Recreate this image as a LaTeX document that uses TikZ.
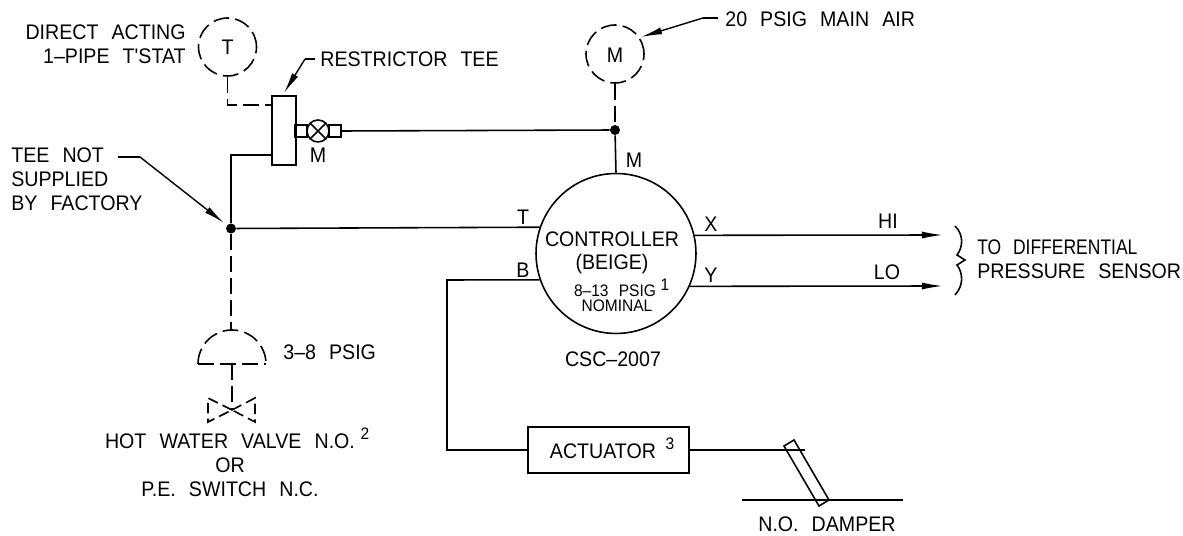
\documentclass[tikz,border=0pt]{standalone}
\usepackage{fontspec}
\usepackage{tikz}
\usetikzlibrary{arrows.meta}
\newfontfamily\cadfont[FakeStretch=0.93,WordSpace=2.4]{Liberation Sans}
\newfontfamily\cadnarrow[FakeStretch=0.83,WordSpace=2.4]{Liberation Sans}
\tikzset{
    lbl/.style={font=\cadfont\fontsize{12}{13.6}\selectfont, inner sep=0pt},
    smalllbl/.style={font=\cadfont\fontsize{9.5}{9.5}\selectfont, inner sep=0pt},
    pipe/.style={line width=0.9pt},
    dashpipe/.style={line width=0.9pt, dash pattern=on 9pt off 3.5pt},
    leader/.style={line width=0.8pt, -{Latex[length=12pt,width=4pt]}},
    dot/.style={circle, fill=black, inner sep=0pt, minimum size=0.2cm},
    dashcircle/.style={circle, draw, dashpipe, inner sep=0pt, minimum size=1.16cm},
    stub/.style={draw, pipe, minimum width=0.24cm, minimum height=0.24cm, inner sep=0pt}
}
\begin{document}
\begin{tikzpicture}[x=0.02cm,y=-0.02cm]
\useasboundingbox (0,0) rectangle (1183,536);

% Thermostat
\node[dashcircle] (tstat) at (227.5,47) {};
\node[lbl] (tstatname) at (227.5,47) {T};
\node[lbl, anchor=east, align=right] (tstatlbl) at (186,44) {DIRECT ACTING\\1–PIPE T'STAT};

% Restrictor tee
\node[draw, pipe, minimum width=0.48cm, minimum height=1.38cm, inner sep=0pt] (tee) at (284,130.5) {};
\node[stub] (stubr) at (335,131) {};
\node[stub] (stubl) at (301,131) {};
\node[circle, draw, pipe, fill=white, minimum size=0.44cm, inner sep=0pt] (valve) at (318,131) {};
\draw[pipe] (valve.45) -- (valve.225) (valve.135) -- (valve.315);
\node[lbl] (valvelbl) at (318,155) {M};
\node[lbl, anchor=west] (teelbl) at (320,59) {RESTRICTOR TEE};
\coordinate (teestart) at (315,59);
\coordinate (teebend) at (305,59);
\draw[pipe] (teestart) -- (teebend);
\draw[leader] (teebend) -- (284,93);
\draw[dashpipe] (tstat.south) -- (227.5,105) -- (272,105);

% Main air
\node[dashcircle] (main) at (615,54) {};
\node[lbl] (mainname) at (615,55) {M};
\node[dot] (maindot) at (615,130) {};
\node[lbl, anchor=west] (mainlbl) at (725,19) {20 PSIG MAIN AIR};
\coordinate (mainstart) at (718,18);
\coordinate (mainbend) at (703,18);
\draw[pipe] (mainstart) -- (mainbend);
\draw[leader] (mainbend) -- (641,37);
\draw[dashpipe] (main.south) -- (maindot);
\draw[pipe] (stubr.east) -- (maindot);

% Controller
\node[circle, draw, pipe, inner sep=0pt, minimum size=3.2cm] (ctrl) at (616,253.5) {};
\node[lbl] (ctrlname) at (612,239) {CONTROLLER};
\node[lbl] (ctrlcolor) at (612,264) {(BEIGE)};
\node[smalllbl] (ctrlpsig) at (615,291) {8–13 PSIG};
\node[smalllbl] (ctrlsup) at (665,285) {1};
\node[smalllbl] (ctrlnom) at (617,306) {NOMINAL};
\node[lbl] (ctrlmodel) at (613,359) {CSC–2007};
\draw[pipe] (maindot) -- (ctrl.north);
\node[lbl] (portm) at (634,160) {M};
\node[lbl] (portt) at (523,217) {T};
\node[lbl] (portb) at (523,270) {B};
\node[lbl] (portx) at (711,224) {X};
\node[lbl] (porty) at (711,275) {Y};

% Tee at left
\node[dot] (junction) at (231,228.5) {};
\draw[pipe] (junction) -- (ctrl.161.8);
\draw[pipe] (junction) -- (231,155) -- (272,155);
\node[lbl, anchor=west, align=left] (junctionlbl) at (11,179.5) {TEE NOT\\SUPPLIED\\BY FACTORY};
\coordinate (leadstart) at (118,157);
\coordinate (leadbend) at (140,157);
\draw[pipe] (leadstart) -- (leadbend);
\draw[leader] (leadbend) -- (224,223);

% Valve at bottom
\coordinate (domel) at (198,364);
\coordinate (domer) at (266,364);
\coordinate (bowtie) at (232,410);
\draw[dashpipe] (junction) -- (231,330);
\draw[dashpipe] (domel) arc[start angle=180, end angle=360, radius=34];
\draw[dashpipe] (domel) -- (domer);
\draw[dashpipe] (232,364) -- (bowtie);
\draw[pipe, dash pattern=on 6pt off 3pt] (bowtie) -- (208,398) -- (208,422) -- cycle;
\draw[pipe, dash pattern=on 6pt off 3pt] (bowtie) -- (255,398) -- (255,422) -- cycle;
\node[lbl, anchor=west] (domelbl) at (283,352) {3–8 PSIG};
\node[lbl, align=center] (hotlbl) at (230,465) {HOT WATER VALVE N.O.\\OR\\P.E. SWITCH N.C.};
\node[smalllbl] (hotsup) at (365,434) {2};

% Outputs
\coordinate (hitip) at (943,235);
\coordinate (lotip) at (943,286);
\draw[pipe, -{Latex[length=12pt,width=4pt]}] (ctrl.13.4) -- (hitip);
\draw[pipe, -{Latex[length=12pt,width=4pt]}] (ctrl.-24) -- (lotip);
\node[lbl] (hilbl) at (888,221) {HI};
\node[lbl] (lolbl) at (887,272) {LO};
\draw[pipe] (955,226) .. controls (964,235) and (963,247) .. (957,255) -- (965,260) -- (957,265) .. controls (963,273) and (964,285) .. (955,295);
\node[lbl, anchor=west, align=left] (sensorlbl) at (977,259.5) {{\cadnarrow TO DIFFERENTIAL}\\PRESSURE SENSOR};

% Actuator and damper
\node[draw, pipe, minimum width=3.22cm, minimum height=0.92cm, inner sep=0pt] (act) at (608.5,450) {};
\node[lbl] (actlbl) at (603,451) {ACTUATOR};
\node[smalllbl] (actsup) at (670,444) {3};
\draw[pipe] (ctrl.199.3) -- (447,280) -- (447,450) -- (act.west);
\coordinate (damperend) at (805,450);
\draw[pipe] (act.east) -- (damperend);
\draw[pipe] (784,446) -- (794,440) -- (829,500) -- (819,506) -- cycle;
\coordinate (basel) at (742,500);
\coordinate (baser) at (903,500);
\draw[pipe] (basel) -- (baser);
\node[lbl] (damperlbl) at (827,524) {N.O. DAMPER};
\end{tikzpicture}
\end{document}
